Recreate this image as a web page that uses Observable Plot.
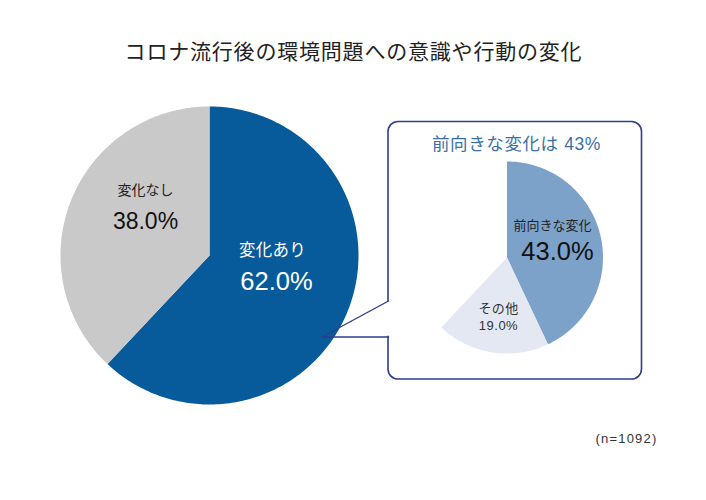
<!DOCTYPE html>
<html>
<head>
<meta charset="utf-8">
<script src="https://cdn.jsdelivr.net/npm/d3@7"></script>
<script src="https://cdn.jsdelivr.net/npm/@observablehq/plot@0.6"></script>
<style>
  html, body { margin: 0; padding: 0; background: #fff; }
  #chart svg { display: block; }
</style>
</head>
<body>
<div id="chart"></div>
<script>
// ---- data ----
const chartTitle = "コロナ流行後の環境問題への意識や行動の変化";
const mainCategories = ["変化あり", "変化なし"];
const mainValues = [62.0, 38.0];
const mainColors = ["#085b9b", "#c9c9c9"];

const subTitle = "前向きな変化は 43%";
const subCategories = ["前向きな変化", "その他"];
const subValues = [43.0, 19.0];
const subColors = ["#7ca2ca", "#e3e8f2"];

const sampleNote = "(n=1092)";

// ---- layout ----
const W = 706, H = 500;
const mainPie = {cx: 209, cy: 255, r: 149};
const subPie = {cx: 506.5, cy: 257, r: 96};
const box = {x1: 388, y1: 121.5, x2: 641.5, y2: 379};
const lineColor = "#2e3d8e";
const font = "'Liberation Sans', 'Noto Sans CJK JP', sans-serif";

// angles from d3.pie (0 = 12 o'clock, clockwise)
function slicePolys(values, cats, colors, pie, total) {
  const all = total != null ? [...values, total - d3.sum(values)] : values;
  const arcs = d3.pie().sort(null).value(d => d)(all).slice(0, values.length);
  const pts = [];
  arcs.forEach((a, i) => {
    const n = Math.max(2, Math.ceil((a.endAngle - a.startAngle) / (Math.PI / 180)));
    pts.push({k: cats[i], color: colors[i], x: pie.cx, y: pie.cy});
    for (let j = 0; j <= n; j++) {
      const t = a.startAngle + (a.endAngle - a.startAngle) * j / n;
      pts.push({k: cats[i], color: colors[i], x: pie.cx + pie.r * Math.sin(t), y: pie.cy - pie.r * Math.cos(t)});
    }
    pts.push({k: cats[i], color: colors[i], x: pie.cx, y: pie.cy});
  });
  return pts;
}
const mainPts = slicePolys(mainValues, mainCategories, mainColors, mainPie, null);
const subPts = slicePolys(subValues, subCategories, subColors, subPie, 100);

const fmt = v => v.toFixed(1) + "%";

const labels = [
  {x: 145, y: 190, text: mainCategories[1], size: 14, fill: "#222", ls: 0},
  {x: 145, y: 221, text: fmt(mainValues[1]), size: 23, fill: "#111", ls: 0},
  {x: 272, y: 250, text: mainCategories[0], size: 16.5, fill: "#fff", ls: 0.3},
  {x: 276, y: 281, text: fmt(mainValues[0]), size: 25.5, fill: "#fff", ls: 0},
  {x: 552, y: 225, text: subCategories[0], size: 13, fill: "#222", ls: 0},
  {x: 557, y: 251, text: fmt(subValues[0]), size: 25.5, fill: "#111", ls: 0},
  {x: 498, y: 308, text: subCategories[1], size: 13, fill: "#333", ls: 0.3},
  {x: 498, y: 325.5, text: fmt(subValues[1]), size: 13, fill: "#333", ls: 0.5},
  {x: 516, y: 143.5, text: subTitle, size: 17.5, fill: "#3a70a6", ls: 0.6},
  {x: 353, y: 52, text: chartTitle, size: 21, fill: "#222", ls: 0.8},
  {x: 626, y: 438, text: sampleNote, size: 13, fill: "#333", ls: 1.2}
];

const connector = [
  {x: box.x1, y: 300.5},
  {x: 321.5, y: 336.5},
  {x: box.x1, y: 336.5}
];

const plot = Plot.plot({
  width: W,
  height: H,
  margin: 0,
  x: {domain: [0, W], range: [0, W], axis: null},
  y: {domain: [0, H], range: [0, H], axis: null},
  style: {fontFamily: font, background: "#fff"},
  marks: [
    Plot.line(mainPts, {x: "x", y: "y", z: "k", fill: "color", stroke: "none", curve: "linear"}),
    Plot.rect([box], {x1: "x1", x2: "x2", y1: "y1", y2: "y2", fill: "#fff", stroke: lineColor, strokeWidth: 1.6, rx: 10, ry: 10}),
    Plot.ruleX([box.x1], {y1: connector[0].y + 0.8, y2: connector[2].y - 0.8, stroke: "#fff", strokeWidth: 4}),
    Plot.line(connector, {x: "x", y: "y", stroke: lineColor, strokeWidth: 1.4}),
    Plot.line(subPts, {x: "x", y: "y", z: "k", fill: "color", stroke: "none", curve: "linear"}),
    Plot.text(labels, {x: "x", y: "y", text: "text", fontSize: "size", fill: "fill", textAnchor: "middle",
      render: (index, scales, values, dims, ctx, next) => {
        const g = next(index, scales, values, dims, ctx);
        d3.select(g).selectAll("text").each(function(_, k) {
          const d = labels[index[k]];
          if (d && d.ls) this.setAttribute("letter-spacing", d.ls);
        });
        return g;
      }})
  ]
});
document.getElementById("chart").appendChild(plot);
</script>
</body>
</html>
